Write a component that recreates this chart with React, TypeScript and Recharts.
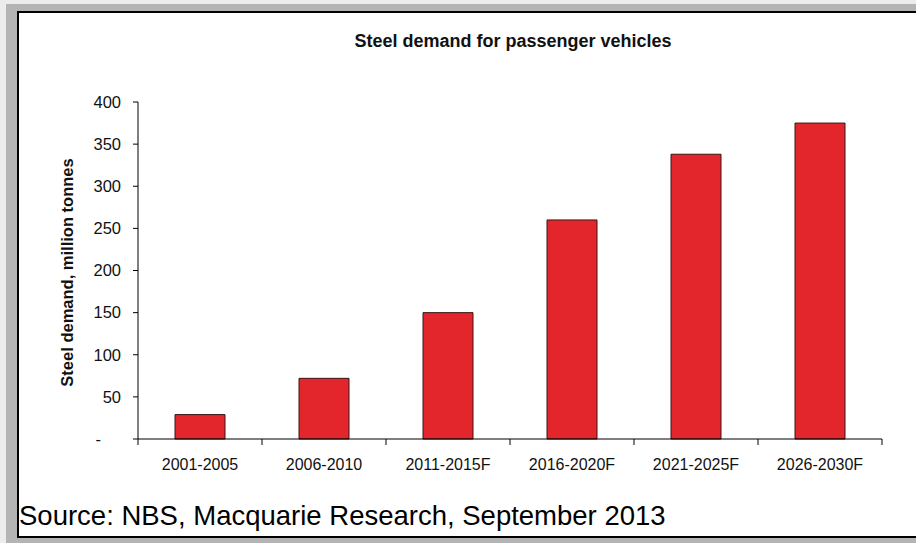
import React from 'react';
import { BarChart, Bar, XAxis, YAxis } from 'recharts';

const categories = ['2001-2005', '2006-2010', '2011-2015F', '2016-2020F', '2021-2025F', '2026-2030F'];
const steelDemand = [29, 72, 150, 260, 338, 375];
const yTicks = [0, 50, 100, 150, 200, 250, 300, 350, 400];

const data = categories.map((c, i) => ({ period: c, demand: steelDemand[i] }));

const FONT = '"Liberation Sans", Arial, sans-serif';

const XTick = (props: any) => {
  const { x, y, payload, index, width, visibleTicksCount } = props;
  const count = visibleTicksCount || categories.length;
  const half = (width || 744) / count / 2;
  return (
    <g>
      <line x1={x - half} x2={x - half} y1={y} y2={y + 6} stroke="#000" strokeWidth={1} />
      {index === count - 1 && (
        <line x1={x + half} x2={x + half} y1={y} y2={y + 6} stroke="#000" strokeWidth={1} />
      )}
      <text x={x} y={y + 20} dy="0.71em" textAnchor="middle" fontSize={16} fill="#111" fontFamily={FONT}>
        {payload.value}
      </text>
    </g>
  );
};

const YTick = (props: any) => {
  const { x, y, payload } = props;
  const isZero = payload.value === 0;
  return (
    <text x={isZero ? x - 20 : x} y={y} dy="0.355em" textAnchor="end" fontSize={16.5} fill="#111" fontFamily={FONT}>
      {isZero ? '-' : payload.value}
    </text>
  );
};

export default function App() {
  return (
    <div style={{ position: 'fixed', left: 0, top: 0, width: 916, height: 543, background: '#ececec', overflow: 'hidden' }}>
      <div style={{ position: 'absolute', left: 6, top: 4, width: 910, height: 539, background: '#b4b4b4' }} />
      <div
        style={{
          position: 'absolute',
          left: 17,
          top: 11,
          width: 905,
          height: 527,
          boxSizing: 'border-box',
          background: '#fff',
          borderTop: '2px solid #000',
          borderLeft: '2px solid #000',
          borderBottom: '2px solid #000',
        }}
      />
      <div
        style={{
          position: 'absolute',
          left: 313,
          width: 400,
          top: 31,
          textAlign: 'center',
          fontFamily: FONT,
          fontWeight: 'bold',
          fontSize: 18,
          color: '#111',
        }}
      >
        Steel demand for passenger vehicles
      </div>
      <div
        style={{
          position: 'absolute',
          left: 19,
          top: 500,
          fontFamily: FONT,
          fontSize: 27.5,
          color: '#000',
          whiteSpace: 'nowrap',
        }}
      >
        Source: NBS, Macquarie Research, September 2013
      </div>
      <div style={{ position: 'absolute', left: 0, top: 0 }}>
        <BarChart
          width={916}
          height={543}
          data={data}
          margin={{ top: 102, right: 34, bottom: 74, left: 78 }}
          barCategoryGap={0}
        >
          <XAxis
            dataKey="period"
            height={30}
            axisLine={{ stroke: '#000', strokeWidth: 1 }}
            tickLine={false}
            tickSize={0}
            tickMargin={0}
            tick={<XTick />}
            interval={0}
          />
          <YAxis
            width={60}
            domain={[0, 400]}
            ticks={yTicks}
            interval={0}
            axisLine={{ stroke: '#000', strokeWidth: 1 }}
            tickLine={{ stroke: '#000', strokeWidth: 1 }}
            tickSize={5}
            tickMargin={12}
            tick={<YTick />}
            label={{
              content: (p: any) => {
                const vb = p.viewBox || { x: 78, y: 102, width: 60, height: 337 };
                const cx = vb.x - 11;
                const cy = vb.y + vb.height / 2 + 2;
                return (
                  <text
                    x={cx}
                    y={cy}
                    transform={`rotate(-90, ${cx}, ${cy})`}
                    textAnchor="middle"
                    dominantBaseline="central"
                    fontFamily={FONT}
                    fontWeight="bold"
                    fontSize={16.5}
                    fill="#111"
                  >
                    Steel demand, million tonnes
                  </text>
                );
              },
            }}
          />
          <Bar dataKey="demand" fill="#e3262b" stroke="#3b1515" strokeWidth={1} barSize={50} isAnimationActive={false} />
        </BarChart>
      </div>
    </div>
  );
}
